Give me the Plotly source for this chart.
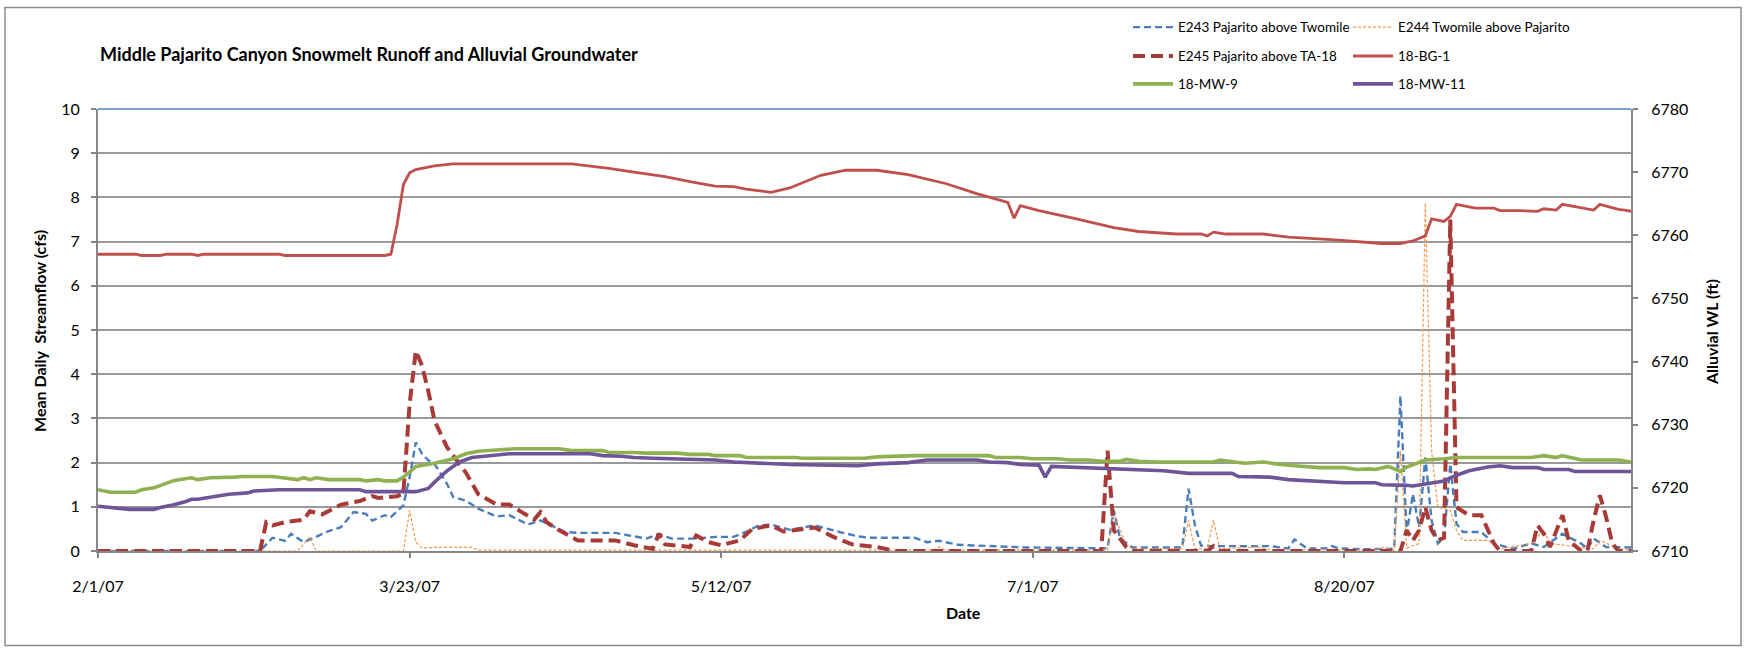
import pandas as pd
import plotly.graph_objects as go

START = pd.Timestamp("2007-02-01")
END = pd.Timestamp("2007-10-05")

# ---- Streamflow gauges (mean daily cfs), keyed by day offset from 2/1/07 ----
e243_day = [0, 26, 28, 30, 31, 33, 35, 37, 39, 41, 43, 44, 46, 47, 49, 50, 51, 52, 53, 54,
            56, 57, 59, 61, 64, 66, 69, 71, 75, 77, 83, 88, 90, 92, 96, 99, 102, 104, 106,
            108, 111, 113, 115, 119, 122, 124, 131, 133, 135, 138, 144, 149, 162, 163, 164,
            166, 174, 175, 176, 177, 179, 188, 191, 192, 194, 197, 198, 199, 203, 208, 209,
            210, 211, 212, 213, 214, 215, 216, 217, 218, 219, 222, 224, 227, 230, 232, 235,
            238, 239, 240, 242, 246]
e243_cfs = [0, 0, 0.30, 0.23, 0.39, 0.20, 0.32, 0.45, 0.54, 0.88, 0.84, 0.69, 0.81, 0.77,
            1.03, 1.67, 2.46, 2.20, 2.05, 1.97, 1.52, 1.22, 1.14, 0.96, 0.78, 0.81, 0.60,
            0.69, 0.43, 0.41, 0.41, 0.28, 0.39, 0.28, 0.28, 0.32, 0.32, 0.43, 0.58, 0.60,
            0.48, 0.53, 0.58, 0.43, 0.33, 0.30, 0.30, 0.20, 0.23, 0.14, 0.11, 0.08, 0.06,
            0.92, 0.29, 0.08, 0.08, 1.41, 0.60, 0.12, 0.11, 0.11, 0.06, 0.26, 0.06, 0.06,
            0.11, 0.06, 0.04, 0.05, 3.51, 0.39, 1.29, 0.54, 2.12, 0.69, 0.17, 0.30, 1.97,
            0.62, 0.43, 0.43, 0.17, 0.05, 0.17, 0.09, 0.39, 0.17, 0.05, 0.28, 0.09, 0.08]

e244_day = [0, 32, 34, 35, 49, 50, 51, 52, 54, 60, 61, 134, 135, 136, 162, 163, 165, 166,
            174, 175, 176, 178, 179, 180, 186, 188, 205, 206, 208, 209, 210, 212, 213, 214,
            215, 217, 218, 219, 223, 225, 230, 232, 233, 240, 241, 244, 246]
e244_cfs = [0, 0, 0.32, 0, 0, 0.92, 0.20, 0.07, 0.08, 0.08, 0.02, 0.02, 0.09, 0.02, 0.02,
            0.84, 0.14, 0.05, 0.05, 0.69, 0.05, 0.05, 0.70, 0.05, 0.09, 0.03, 0.02, 0.09,
            0.02, 2.27, 0.07, 0.17, 7.87, 2.27, 0.99, 0.92, 0.47, 0.24, 0.24, 0.05, 0.17,
            0.47, 0.17, 0.05, 0.24, 0.05, 0.02]

e245_day = [0, 26, 27, 28, 30, 33, 34, 36, 39, 42, 44, 45, 48, 49, 50, 51, 52, 53, 54, 56,
            59, 61, 64, 66, 68, 70, 71, 72, 74, 77, 83, 86, 89, 90, 91, 95, 96, 98, 100, 103,
            105, 108, 110, 112, 115, 118, 121, 125, 128, 161, 162, 163, 165, 166, 178, 179,
            180, 209, 210, 211, 212, 213, 214, 215, 216, 217, 218, 220, 222, 224, 225, 230,
            231, 232, 233, 235, 236, 238, 239, 240, 241, 242, 243, 244, 246]
e245_cfs = [0, 0, 0.65, 0.58, 0.65, 0.71, 0.90, 0.83, 1.05, 1.13, 1.24, 1.20, 1.24, 1.30,
            3.32, 4.53, 4.19, 3.62, 2.95, 2.35, 1.78, 1.29, 1.05, 1.05, 0.88, 0.71, 0.88,
            0.65, 0.47, 0.24, 0.24, 0.13, 0.05, 0.39, 0.15, 0.09, 0.35, 0.20, 0.13, 0.24,
            0.50, 0.58, 0.44, 0.47, 0.53, 0.32, 0.15, 0.09, 0, 0, 2.27, 0.47, 0.09, 0, 0,
            0.11, 0, 0, 0.47, 0.24, 0.47, 0.99, 0.47, 0.24, 0.30, 7.50, 0.99, 0.81, 0.81,
            0.17, 0, 0, 0.58, 0.39, 0.09, 0.81, 0.24, 0, 0, 0.69, 1.26, 0.77, 0.17, 0, 0]

# ---- Alluvial groundwater levels (ft) ----
bg1_day = [0, 6, 7, 10, 11, 15, 16, 17, 29, 30, 46, 47, 48, 49, 50, 51, 54, 57, 76, 79, 82,
           86, 91, 95, 99, 102, 104, 108, 111, 116, 120, 125, 130, 136, 141, 146, 147, 148,
           151, 157, 163, 167, 173, 177, 178, 179, 181, 187, 191, 198, 203, 206, 209, 211,
           213, 214, 216, 217, 218, 221, 224, 225, 228, 230, 231, 232, 234, 235, 238, 240,
           241, 244, 245, 246]
bg1_ft = [6757.0, 6757.0, 6756.8, 6756.8, 6757.0, 6757.0, 6756.8, 6757.0, 6757.0, 6756.8,
          6756.8, 6757.0, 6761.7, 6768.0, 6769.9, 6770.4, 6771.0, 6771.3, 6771.3, 6771.0,
          6770.6, 6770.0, 6769.3, 6768.5, 6767.8, 6767.7, 6767.3, 6766.8, 6767.5, 6769.5,
          6770.3, 6770.3, 6769.6, 6768.2, 6766.6, 6765.2, 6762.7, 6764.7, 6763.9, 6762.6,
          6761.2, 6760.6, 6760.2, 6760.2, 6759.9, 6760.5, 6760.2, 6760.2, 6759.7, 6759.3,
          6758.9, 6758.7, 6758.7, 6759.1, 6759.9, 6762.6, 6762.2, 6763.0, 6764.9, 6764.3,
          6764.3, 6763.9, 6763.9, 6763.8, 6763.8, 6764.2, 6764.0, 6764.9, 6764.3, 6764.0,
          6764.9, 6764.1, 6764.0, 6763.8]

mw9_day = [0, 2, 6, 7, 9, 12, 13, 15, 16, 18, 22, 23, 28, 30, 32, 33, 34, 35, 37, 42, 43,
           45, 46, 48, 49, 50, 51, 54, 57, 59, 61, 64, 67, 74, 76, 81, 82, 86, 88, 93, 95,
           98, 99, 103, 104, 112, 113, 123, 125, 131, 143, 144, 148, 150, 154, 156, 159, 161,
           164, 165, 167, 170, 179, 180, 182, 184, 187, 189, 192, 194, 196, 200, 202, 204,
           205, 207, 209, 210, 213, 216, 218, 230, 232, 234, 235, 238, 244, 246]
mw9_ft = [6719.7, 6719.3, 6719.3, 6719.7, 6720.0, 6721.1, 6721.3, 6721.6, 6721.3, 6721.6,
          6721.7, 6721.8, 6721.8, 6721.6, 6721.3, 6721.6, 6721.3, 6721.6, 6721.3, 6721.3,
          6721.1, 6721.3, 6721.1, 6721.1, 6721.7, 6722.5, 6723.4, 6723.9, 6724.6, 6725.4,
          6725.8, 6726.0, 6726.2, 6726.2, 6725.9, 6725.9, 6725.6, 6725.6, 6725.5, 6725.5,
          6725.3, 6725.3, 6725.1, 6725.1, 6724.8, 6724.8, 6724.7, 6724.7, 6724.9, 6725.1,
          6725.1, 6724.8, 6724.8, 6724.6, 6724.6, 6724.4, 6724.4, 6724.2, 6724.2, 6724.5,
          6724.2, 6724.1, 6724.1, 6724.4, 6724.1, 6723.9, 6724.1, 6723.8, 6723.5, 6723.4,
          6723.2, 6723.2, 6722.9, 6723.0, 6722.9, 6723.4, 6722.6, 6723.3, 6724.4, 6724.6,
          6724.8, 6724.8, 6725.1, 6724.8, 6725.1, 6724.4, 6724.4, 6724.1]

mw11_day = [0, 2, 5, 9, 10, 12, 14, 15, 16, 18, 21, 24, 25, 29, 42, 43, 51, 53, 54, 56, 58,
            60, 63, 66, 79, 81, 84, 86, 89, 94, 99, 102, 107, 111, 122, 125, 130, 133, 141,
            143, 146, 148, 151, 152, 153, 158, 162, 167, 171, 175, 182, 183, 188, 191, 196,
            200, 205, 206, 210, 211, 213, 216, 218, 220, 223, 225, 227, 231, 232, 236, 237,
            246]
mw11_ft = [6717.1, 6716.9, 6716.6, 6716.6, 6716.9, 6717.3, 6717.8, 6718.2, 6718.2, 6718.5,
           6719.0, 6719.2, 6719.5, 6719.7, 6719.7, 6719.4, 6719.4, 6719.9, 6720.9, 6722.7,
           6724.1, 6724.8, 6725.1, 6725.4, 6725.4, 6725.1, 6725.0, 6724.8, 6724.7, 6724.5,
           6724.4, 6724.1, 6723.8, 6723.7, 6723.5, 6723.8, 6724.0, 6724.4, 6724.4, 6724.1,
           6724.0, 6723.7, 6723.6, 6721.7, 6723.4, 6723.2, 6723.0, 6722.9, 6722.7, 6722.3,
           6722.3, 6721.8, 6721.7, 6721.3, 6721.1, 6720.8, 6720.8, 6720.5, 6720.4, 6720.3,
           6720.6, 6721.1, 6722.0, 6722.7, 6723.3, 6723.5, 6723.2, 6723.2, 6722.9, 6722.9,
           6722.6, 6722.6]

tick_dates = ["2007-02-01", "2007-03-23", "2007-05-12", "2007-07-01", "2007-08-20"]
tick_text = ["2/1/07", "3/23/07", "5/12/07", "7/1/07", "8/20/07"]


def to_dates(days):
    return [START + pd.Timedelta(days=d) for d in days]


FONT = "Lato"
GRID = "#9a9a9a"
AXIS = "#868686"

W, H = 1745, 648
L, R, T, B = 98, 114, 107, 97
pw, ph = W - L - R, H - T - B


def px_x(x):
    return (x - L) / pw


def px_y(y):
    return (H - B - y) / ph


# legend grid: two columns, three rows above the plot
COL_X = [1128, 1348]
ROW_Y = [25, 54, 82]

series = [
    # name, days, values, axis, color, width, dash, (col, row)
    ("E243 Pajarito above Twomile", e243_day, e243_cfs, "y", "#4a7ebb", 2.4, "7px,4px", (0, 0)),
    ("E244 Twomile above Pajarito", e244_day, e244_cfs, "y", "#f79646", 1.2, "3px,2px", (1, 0)),
    ("E245 Pajarito above TA-18", e245_day, e245_cfs, "y", "#a83b38", 4.0, "12px,6px", (0, 1)),
    ("18-BG-1", bg1_day, bg1_ft, "y2", "#c0504d", 2.8, "solid", (1, 1)),
    ("18-MW-9", mw9_day, mw9_ft, "y2", "#8fb150", 3.6, "solid", (0, 2)),
    ("18-MW-11", mw11_day, mw11_ft, "y2", "#6e5597", 3.6, "solid", (1, 2)),
]

fig = go.Figure()
legends = {}
for i, (name, days, vals, yax, color, width, dash, (col, row)) in enumerate(series):
    key = "legend" if i == 0 else f"legend{i + 1}"
    fig.add_trace(go.Scatter(
        x=to_dates(days), y=vals, name=name, mode="lines", yaxis=yax,
        line=dict(color=color, width=width, dash=dash),
        legend=key,
    ))
    legends[key] = dict(
        x=px_x(COL_X[col]), y=px_y(ROW_Y[row]),
        orientation="h", xanchor="left", yanchor="middle",
        font=dict(family=FONT, size=13.5, color="#000000"),
        bgcolor="rgba(0,0,0,0)", itemwidth=40,
    )

tick_font = dict(family=FONT, size=16, color="#000000")
title_font = dict(family=FONT, size=16, color="#000000")

fig.update_layout(
    width=W, height=H,
    margin=dict(l=L, r=R, t=T, b=B),
    paper_bgcolor="white", plot_bgcolor="white",
    font=dict(family=FONT, size=16, color="#000000"),
    showlegend=True,
    **legends,
    xaxis=dict(
        type="date", range=[START, END],
        tickvals=tick_dates, ticktext=tick_text,
        ticks="outside", ticklen=5, tickcolor=AXIS, tickwidth=1.5,
        ticklabelstandoff=15,
        showline=True, linecolor=AXIS, linewidth=2,
        showgrid=False, zeroline=False,
        tickfont=tick_font,
    ),
    yaxis=dict(
        range=[0, 10], dtick=1, tick0=0,
        ticks="outside", ticklen=5, tickcolor=AXIS, tickwidth=1.5,
        ticklabelstandoff=8,
        showline=True, linecolor=AXIS, linewidth=2,
        showgrid=True, gridcolor=GRID, gridwidth=1.5, zeroline=False,
        tickfont=tick_font,
    ),
    yaxis2=dict(
        range=[6710, 6780], dtick=10, tick0=6710,
        overlaying="y", side="right",
        ticks="outside", ticklen=5, tickcolor=AXIS, tickwidth=1.5,
        ticklabelstandoff=10,
        showline=True, linecolor=AXIS, linewidth=2,
        showgrid=False, zeroline=False,
        tickfont=tick_font,
    ),
    shapes=[
        # blue top border of the plotting area
        dict(type="line", xref="paper", yref="paper", x0=0, x1=1, y0=1, y1=1,
             line=dict(color="#4f81bd", width=1.5), layer="above"),
        # chart frame
        dict(type="rect", xref="paper", yref="paper",
             x0=px_x(5), x1=px_x(1741), y0=px_y(5), y1=px_y(646),
             line=dict(color="#8c8c8c", width=1.5), layer="below"),
    ],
    annotations=[
        dict(text="<b>Middle Pajarito Canyon Snowmelt Runoff and Alluvial Groundwater</b>",
             xref="paper", yref="paper", x=px_x(98), y=px_y(52),
             xanchor="left", yanchor="middle", showarrow=False,
             font=dict(family=FONT, size=18, color="#000000")),
        dict(text="<b>Date</b>", xref="paper", yref="paper",
             x=px_x(963), y=px_y(613), xanchor="center", yanchor="middle",
             showarrow=False, font=title_font),
        dict(text="<b>Mean Daily\u00a0 Streamflow (cfs)</b>", xref="paper", yref="paper",
             x=px_x(40), y=px_y(330), xanchor="center", yanchor="middle", textangle=-90,
             showarrow=False, font=title_font),
        dict(text="<b>Alluvial WL (ft)</b>", xref="paper", yref="paper",
             x=px_x(1712), y=px_y(331), xanchor="center", yanchor="middle", textangle=-90,
             showarrow=False, font=title_font),
    ],
)

fig.write_html("out.html")
